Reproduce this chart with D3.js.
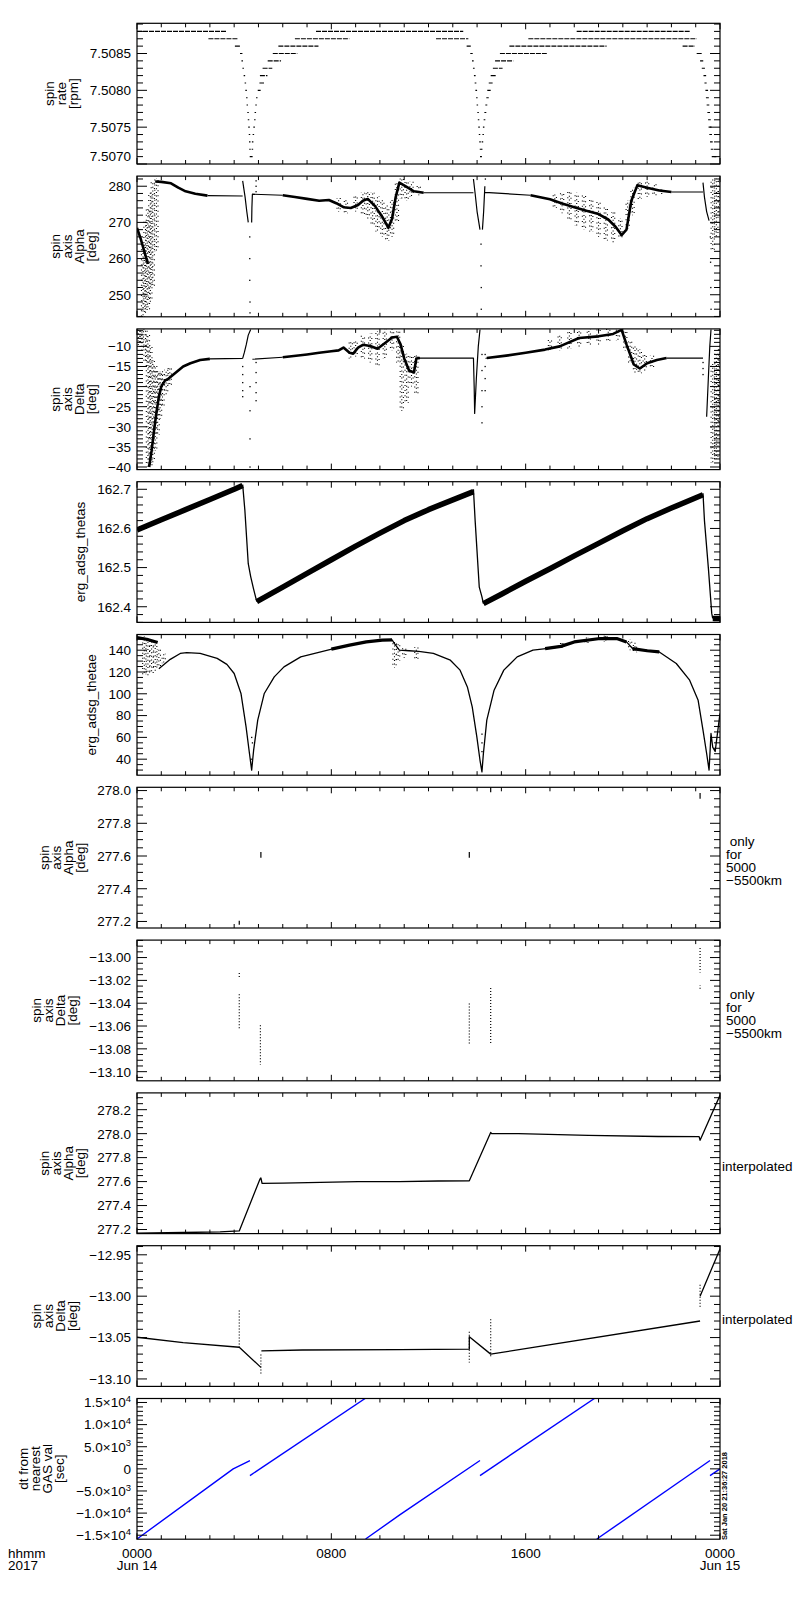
<!DOCTYPE html>
<html>
<head>
<meta charset="utf-8">
<script src="https://cdn.jsdelivr.net/npm/d3@7"></script>
<style>
body { margin: 0; background: #fff; }
text { font-family: "Liberation Sans", Arial, sans-serif; }
</style>
</head>
<body>
<svg id="chart" width="800" height="1600"></svg>
<script>
// ---- data (time in hours from 2017-06-14 00:00) ----
var hourTicks = d3.range(0, 25);
var timeLabels = [[0, "0000", "Jun 14"], [8, "0800", ""], [16, "1600", ""], [24, "0000", "Jun 15"]];

// panel 1: spin rate, quantised runs [t0, t1, level]
var rateTicks = [7.5070, 7.5075, 7.5080, 7.5085];
var rateRuns = [
  [0,3.69,7.5088],[2.94,4.17,7.5087],[4.03,4.24,7.5086],[4.24,4.34,7.5085],[4.30,4.35,7.5084],[4.34,4.39,7.5083],
  [4.39,4.45,7.5082],[4.43,4.49,7.5081],[4.46,4.51,7.5080],[4.49,4.54,7.5079],[4.51,4.57,7.5078],[4.54,4.60,7.5077],
  [4.56,4.61,7.5076],[4.58,4.62,7.5075],[4.60,4.65,7.5074],[4.61,4.67,7.5073],[4.62,4.68,7.5072],[4.64,4.76,7.5071],
  [4.72,4.78,7.5072],[4.73,4.79,7.5073],[4.76,4.82,7.5074],[4.79,4.84,7.5075],[4.82,4.87,7.5076],[4.84,4.90,7.5077],
  [4.87,4.93,7.5078],[4.90,4.95,7.5079],[4.97,5.09,7.5080],[5.04,5.23,7.5081],[5.06,5.37,7.5082],[5.17,5.57,7.5083],
  [5.38,5.93,7.5084],[5.59,6.60,7.5085],[5.82,7.47,7.5086],[6.50,8.74,7.5087],[7.37,13.43,7.5088],
  [12.31,13.64,7.5087],[13.57,13.74,7.5086],[13.72,13.82,7.5085],[13.79,13.86,7.5084],[13.83,13.90,7.5083],
  [13.87,13.94,7.5082],[13.90,13.97,7.5081],[13.93,14.00,7.5080],[13.96,14.02,7.5079],[13.98,14.04,7.5078],
  [14.01,14.07,7.5077],[14.03,14.08,7.5076],[14.05,14.11,7.5075],[14.07,14.12,7.5074],[14.09,14.15,7.5073],
  [14.11,14.16,7.5072],[14.12,14.20,7.5071],
  [14.16,14.22,7.5072],[14.19,14.24,7.5073],[14.22,14.27,7.5074],[14.24,14.30,7.5075],[14.27,14.34,7.5076],
  [14.30,14.38,7.5077],[14.34,14.42,7.5078],[14.38,14.48,7.5079],[14.42,14.56,7.5080],[14.48,14.64,7.5081],
  [14.56,14.78,7.5082],[14.65,15.05,7.5083],[14.74,15.49,7.5084],[14.94,16.87,7.5085],[15.33,19.33,7.5086],
  [16.11,23.04,7.5087],[18.10,22.77,7.5088],
  [22.46,22.97,7.5086],[23.04,23.25,7.5085],[23.18,23.31,7.5084],[23.25,23.38,7.5083],[23.32,23.43,7.5082],
  [23.36,23.45,7.5081],[23.40,23.51,7.5080],[23.42,23.54,7.5079],[23.45,23.56,7.5078],[23.48,23.59,7.5077],
  [23.51,23.62,7.5076],[23.53,23.65,7.5075],[23.56,23.67,7.5074],[23.59,23.70,7.5073],[23.62,23.73,7.5072],
  [23.66,23.85,7.5071]
];

// panel 2: spin axis alpha
var alphaTicks = [250, 260, 270, 280];
var alphaBand = [
  [0,268.5],[0.15,265.5],[0.3,262],[0.45,258.5], null,
  [0.75,281.3],[1.0,281.2],[1.4,280.8],[1.7,279.6],[2.0,278.6],[2.4,277.9],[2.9,277.4], null,
  [6.0,277.5],[6.5,277.0],[7.0,276.5],[7.5,276.0],[7.9,276.2],[8.2,275.3],[8.5,274.2],[8.8,274.0],[9.1,274.8],
  [9.3,276.0],[9.5,276.5],[9.8,274.5],[10.1,271.5],[10.35,268.5],[10.5,271],[10.65,277],[10.8,281],
  [11.1,279.8],[11.4,278.6],[11.8,278.2], null,
  [16.2,277.5],[17.0,276.4],[17.5,275.2],[18.0,274.2],[18.5,273.2],[19.0,272.3],[19.4,270.8],[19.7,268.8],
  [19.95,266.5],[20.15,268],[20.35,276],[20.6,280.3],[21.0,279.6],[21.5,278.8],[22.0,278.4]
];
var alphaLine = [
  [2.9,277.4],[4.35,277.3], null,
  [4.35,281.5],[4.45,277],[4.52,273],[4.58,270], null,
  [4.72,270],[4.73,274],[4.75,277.8],[6.0,277.5], null,
  [11.8,278.2],[13.85,278.2], null,
  [13.85,282],[13.92,278],[14.0,273],[14.12,268], null,
  [14.22,268],[14.27,273],[14.32,280], null,
  [14.32,278.3],[16.2,277.5], null,
  [22.0,278.4],[23.3,278.4], null,
  [23.3,281],[23.36,277],[23.45,273],[23.55,270.5]
];
var alphaCloud = [
  [0.25,244,264],[0.35,245,270],[0.45,246,274],[0.55,248,278],[0.65,252,281],[0.8,262,282],
  [8.3,273,276.5],[8.6,272.5,276],[9.0,273,277.5],[9.3,272,278],[9.5,271,278.5],[9.7,269,278],[9.9,267.5,277],
  [10.1,266,276],[10.3,265,274.5],[10.5,266,276],[10.7,270,281],
  [10.9,276.5,282],[11.1,276,281.5],[11.3,277,281],[11.6,277.5,280],
  [17.2,274,277.5],[17.5,272.5,278],[17.8,270.5,278.5],[18.1,269,278],[18.4,268,277.5],[18.7,267.5,276.5],
  [19.0,266,275.5],[19.3,265,274],[19.6,264.5,272.5],[19.9,265.5,271],
  [20.2,268,276],[20.4,272,279.5],[20.7,276.5,281.5],[21.0,277,281],[21.3,277.5,280.5],[21.6,277.8,279.5],
  [23.7,262,282],[23.85,266,282],[24.0,272,282]
];
var alphaDots = [
  [4.64,266],[4.64,260],[4.64,254],[4.65,248],[4.65,245],[4.9,278.5],[4.9,280],[4.9,281.5],
  [14.16,264],[14.16,258],[14.17,252],[14.17,246],[14.34,282],
  [23.6,266],[23.61,259],[23.62,252],[23.63,246]
];

// panel 3: spin axis delta
var deltaTicks = [-40, -35, -30, -25, -20, -15, -10];
var deltaBand = [
  [0.5,-40],[0.6,-36],[0.7,-31],[0.8,-26.5],[0.9,-22.5],[1.0,-20],[1.15,-18.5],[1.3,-18],[1.5,-17],[1.7,-16],
  [1.9,-15],[2.2,-14.2],[2.6,-13.4],[3.0,-13.1], null,
  [6.0,-12.7],[7.0,-12.0],[7.5,-11.6],[8.0,-11.2],[8.3,-11.0],[8.5,-10.3],[8.75,-11.6],[8.9,-11.8],[9.1,-10.3],
  [9.3,-9.6],[9.6,-9.9],[9.9,-10.6],[10.2,-9.2],[10.5,-7.8],[10.7,-7.6],[10.85,-9.5],[11.0,-13],[11.2,-16],
  [11.4,-16.5],[11.5,-13],[11.65,-12.9], null,
  [14.4,-12.9],[15.2,-12.3],[16.0,-11.6],[16.8,-10.8],[17.4,-10],[18.2,-7.9],[19.0,-7.5],[19.6,-6.9],[19.95,-5.9],
  [20.15,-9.5],[20.3,-12],[20.45,-14.5],[20.7,-15.5],[21.0,-14.2],[21.4,-13.4],[21.8,-12.9]
];
var deltaLine = [
  [3.0,-13.1],[4.35,-13.0], null,
  [4.35,-13.0],[4.42,-11.5],[4.5,-9.5],[4.58,-7.2],[4.68,-5.8], null,
  [4.75,-13.2],[6.0,-12.7], null,
  [11.65,-12.9],[13.85,-12.9],[13.88,-20],[13.9,-26.7],[13.97,-18],[14.05,-10],[14.12,-5.8], null,
  [14.35,-13.0],[14.4,-12.9], null,
  [21.8,-12.9],[23.3,-12.9], null,
  [23.45,-27.5],[23.52,-18],[23.58,-10],[23.63,-5.8]
];
var deltaCloud = [
  [0.05,-10,-5.7],[0.2,-11,-5.7],[0.35,-14,-5.7],[0.45,-40,-7],[0.55,-40,-10],[0.65,-39,-13],[0.75,-36,-15],
  [0.85,-32,-16],[0.95,-28,-16.5],[1.05,-25,-16],[1.2,-22,-16],[1.35,-20,-15.5],
  [8.8,-13,-9],[9.0,-12.5,-8.5],[9.3,-13,-7.5],[9.6,-14,-7],[9.9,-15,-6.5],[10.2,-13,-5.8],[10.5,-11,-5.8],
  [10.75,-14,-6.5],[10.9,-26,-10],[11.1,-24,-12],[11.3,-20,-12.5],[11.5,-22,-12],
  [17.0,-11,-8.5],[17.4,-11,-7],[17.8,-10.5,-6],[18.2,-10,-5.8],[18.6,-9.5,-5.7],[19.0,-9.5,-5.7],[19.4,-9,-5.7],
  [19.8,-8.5,-5.7],[20.1,-11,-6.5],[20.3,-14,-9],[20.5,-16.5,-10],[20.7,-16.7,-11],[20.9,-16,-12],[21.2,-15.5,-12.5],
  [23.7,-39,-14],[23.85,-38,-12],[24,-30,-10]
];
var deltaDots = [
  [4.35,-15],[4.35,-17],[4.35,-19],[4.35,-21],[4.35,-22.5],
  [4.65,-20],[4.65,-26],[4.65,-33],[4.65,-40],
  [4.9,-14],[4.9,-16.5],[4.9,-19],[4.9,-21.5],[4.9,-23.5],
  [14.2,-12],[14.2,-16],[14.2,-21],[14.2,-25],[14.2,-29],
  [14.33,-12],[14.33,-15],[14.33,-18],[14.33,-21],
  [23.3,-14],[23.3,-15.5],[23.3,-17]
];

// panel 4: erg_adsg_thetas
var thetasTicks = [162.4, 162.5, 162.6, 162.7];
var thetasBand = [
  [0,162.596],[1,162.622],[2,162.648],[3,162.674],[4,162.700],[4.35,162.71], null,
  [4.93,162.413],[6,162.45],[7,162.485],[8,162.52],[9,162.555],[10,162.588],[11,162.62],[12,162.648],[13,162.673],[13.85,162.694], null,
  [14.26,162.408],[15,162.432],[16,162.465],[17,162.497],[18,162.53],[19,162.562],[20,162.594],[21,162.625],[22,162.652],[23.3,162.686], null,
  [23.7,162.37],[24,162.37]
];
var thetasLine = [
  [4.35,162.712],[4.44,162.647],[4.58,162.51],[4.68,162.477],[4.8,162.445],[4.93,162.413], null,
  [13.85,162.70],[13.92,162.62],[14.09,162.45],[14.2,162.425],[14.26,162.408], null,
  [23.3,162.69],[23.36,162.62],[23.52,162.50],[23.66,162.383],[23.7,162.37]
];

// panel 5: erg_adsg_thetae
var thetaeTicks = [40, 60, 80, 100, 120, 140];
var thetaeBand = [
  [0,151.5],[0.4,150],[0.85,147], null,
  [8.0,141],[8.75,144.6],[9.44,147.6],[10.1,149.2],[10.5,149.5], null,
  [16.8,141.5],[17.45,143.5],[18.0,147.6],[19.06,150.7],[19.75,150.7],[20.15,147.6], null,
  [20.4,141.5],[21.0,139.5],[21.5,138.4]
];
var thetaeLine = [
  [0.9,123],[1.37,131.6],[1.78,137],[2.05,137.7],[2.6,137],[3.3,132.5],[3.7,127],[4.0,118.6],[4.28,100.3],
  [4.49,69.6],[4.63,45.2],[4.72,30],[4.8,48],[4.97,75.8],[5.24,100.3],[5.65,115.5],[6.05,124.7],[6.74,133.9],
  [7.4,137.5],[8.1,141.5],[8.75,144.6],[9.44,147.6],[10.1,149.2],[10.5,149.5],[10.6,146],[10.8,140],[11.2,139.5],
  [11.6,139],[12.2,137],[12.9,130.8],[13.3,121.7],[13.6,106.3],[13.8,88],[13.99,60.4],[14.12,39],[14.2,28.3],
  [14.26,45.2],[14.4,75.8],[14.7,103.3],[15.1,121.7],[15.65,133.9],[16.3,140],[17.45,143],[18.0,147.6],
  [19.06,150.7],[19.75,150.7],[20.15,147.6],[20.4,141.5],[21.5,138.4],[22.2,127.8],[22.75,112.5],[23.1,94],
  [23.3,66.6],[23.45,45.2],[23.55,30],[23.63,63.6],[23.7,51],[23.8,47],[24,82]
];
var thetaeCloud = [
  [0.3,118,152],[0.45,117,150],[0.6,119,148],[0.75,121,145],[0.9,124,140],[1.1,128,136],
  [10.6,124,148],[10.75,130,146],[11.0,133,142],[11.5,131,142],
  [17.5,142,147],[18.5,145,151],[19.3,148,153],[20.3,140,149],[20.5,138,146]
];
var thetaeDots = [[4.7,40],[4.72,60],[4.75,55],[14.2,63],[14.2,55],[14.2,47]];

// panel 6/7: spin axis only for 5000-5500 km  [t, lo, hi]
var alphaNearTicks = [277.2, 277.4, 277.6, 277.8, 278.0];
var alphaNearMarks = [[4.21,277.18,277.2],[5.1,277.59,277.62],[13.68,277.59,277.62],[14.56,277.99,278.02],[23.18,277.95,277.98]];
var deltaNearTicks = [-13.10, -13.08, -13.06, -13.04, -13.02, -13.00];
var deltaNearMarks = [[4.21,-13.017,-13.014],[4.21,-13.063,-13.031],[5.08,-13.094,-13.06],[13.68,-13.077,-13.041],
  [14.56,-13.075,-13.027],[23.18,-13.013,-12.991],[23.18,-13.028,-13.025]];

// panel 8/9: interpolated
var alphaInterpTicks = [277.2, 277.4, 277.6, 277.8, 278.0, 278.2];
var alphaInterpLine = [
  [0,277.17],[1.9,277.175],[3.42,277.18],[4.21,277.188],[5.06,277.62],[5.1,277.63],[5.15,277.585],[6.0,277.587],
  [9.1,277.6],[10.8,277.6],[12.4,277.605],[13.68,277.607],[14.56,278.01],[14.6,278.0],[15.7,278.0],[18.58,277.985],
  [21.46,277.976],[23.14,277.975],[23.18,277.945],[24,278.32]
];
var deltaInterpTicks = [-13.10, -13.05, -13.00, -12.95];
var deltaInterpLine = [
  [0,-13.0496],[1.9,-13.056],[4.21,-13.0617],[5.1,-13.086], null,
  [5.12,-13.066],[6.8,-13.065],[10.83,-13.0645],[13.68,-13.064],[13.68,-13.049],[14.56,-13.07],[23.18,-13.030], null,
  [23.18,-13.0],[24,-12.943]
];
var deltaInterpMarks = [[4.21,-13.062,-13.016],[5.1,-13.095,-13.07],[13.68,-13.08,-13.044],[14.56,-13.075,-13.028],[23.18,-13.013,-12.985]];

// panel 10: dt from nearest GAS val
var dtTicks = [-15000, -10000, -5000, 0, 5000, 10000, 15000];
var dtSegments = [
  [[0,-15860],[3.96,0],[4.65,1880]],
  [[4.65,-1520],[9.39,15900]],
  [[9.41,-15860],[10.83,-10350],[14.12,1880]],
  [[14.12,-1520],[18.83,15900]],
  [[18.93,-15860],[23.59,1880]],
  [[23.59,-1520],[24,0]]
];

// ---- layout ----
var left = 137, right = 720, top0 = 23.3, step = 152.8, ph = 140.7;
var svg = d3.select("#chart");
var x = d3.scaleLinear().domain([0, 24]).range([left, right]);

function sci(v) {
  if (v === 0) return ["0", ""];
  var e = Math.floor(Math.log10(Math.abs(v)) + 1e-9);
  return [d3.format(".1f")(v / Math.pow(10, e)) + "\u00d710", String(e)];
}

var panels = [
  {title: ["spin", "rate", "[rpm]"], domain: [7.5070, 7.50891], ticks: rateTicks, minor: 0.0001, fmt: d3.format(".4f"), raiseBottom: true},
  {title: ["spin", "axis", "Alpha", "[deg]"], domain: [243.9, 282.8], ticks: alphaTicks, minor: 2, fmt: d3.format("d")},
  {title: ["spin", "axis", "Delta", "[deg]"], domain: [-40.65, -5.65], ticks: deltaTicks, minor: 1, fmt: d3.format("d")},
  {title: ["erg_adsg_thetas"], domain: [162.360, 162.7194], ticks: thetasTicks, minor: 0.02, fmt: d3.format(".1f")},
  {title: ["erg_adsg_thetae"], domain: [25.3, 154.4], ticks: thetaeTicks, minor: 5, fmt: d3.format("d")},
  {title: ["spin", "axis", "Alpha", "[deg]"], domain: [277.16, 278.02], ticks: alphaNearTicks, minor: 0.05, fmt: d3.format(".1f"),
   note: [" only", "for", "5000", "\u22125500km"]},
  {title: ["spin", "axis", "Delta", "[deg]"], domain: [-13.108, -12.9847], ticks: deltaNearTicks, minor: 0.005, fmt: d3.format(".2f"),
   note: [" only", "for", "5000", "\u22125500km"]},
  {title: ["spin", "axis", "Alpha", "[deg]"], domain: [277.166, 278.34], ticks: alphaInterpTicks, minor: 0.05, fmt: d3.format(".1f"),
   note: ["interpolated"]},
  {title: ["spin", "axis", "Delta", "[deg]"], domain: [-13.109, -12.939], ticks: deltaInterpTicks, minor: 0.01, fmt: d3.format(".2f"),
   note: ["interpolated"]},
  {title: ["dt from", "nearest", "GAS val", "[sec]"], domain: [-15900, 15900], ticks: dtTicks, minor: 1000, fmt: sci}
];

var defs = svg.append("defs");

panels.forEach(function(p, i) {
  var top = top0 + i * step, bottom = top + ph;
  p.y = d3.scaleLinear().domain(p.domain).range([bottom, top]);
  p.top = top;
  p.bottom = bottom;
  p.g = svg.append("g");
  defs.append("clipPath").attr("id", "clip" + i)
    .append("rect").attr("x", left).attr("y", top).attr("width", right - left).attr("height", ph);
  p.plot = p.g.append("g").attr("clip-path", "url(#clip" + i + ")");
});

function drawLine(p, pts, width, color) {
  var line = d3.line().defined(function(d) { return d !== null; })
    .x(function(d) { return x(d[0]); })
    .y(function(d) { return p.y(d[1]); });
  p.plot.append("path").datum(pts).attr("d", line)
    .attr("fill", "none").attr("stroke", color || "#000")
    .attr("stroke-width", width).attr("stroke-linejoin", "round");
}

// vertical marks [t, lo, hi]; spread = draw a few thin dotted strands side by side
function drawColumns(p, cols, width, dash, spread) {
  var offs = spread ? [-1.6, 0, 1.6] : [0];
  offs.forEach(function(dx, s) {
    p.plot.selectAll(null).data(cols).enter().append("line")
      .attr("x1", function(d) { return x(d[0]) + dx; })
      .attr("x2", function(d) { return x(d[0]) + dx; })
      .attr("y1", function(d) { return p.y(d[1]); })
      .attr("y2", function(d) { return p.y(d[2]) - 0.8; })
      .attr("stroke", "#000").attr("stroke-width", width)
      .attr("stroke-dasharray", spread ? (s === 1 ? "1,2.6" : "1,4.1") : dash)
      .attr("stroke-dashoffset", function(d, k) { return (k * 1.7 + s * 2.3) % 4; });
  });
}

function drawDots(p, pts) {
  p.plot.selectAll(null).data(pts).enter().append("rect")
    .attr("x", function(d) { return x(d[0]) - 0.6; })
    .attr("y", function(d) { return p.y(d[1]) - 0.6; })
    .attr("width", 1.3).attr("height", 1.3).attr("fill", "#000");
}

// panel 1 runs
panels[0].plot.selectAll(null).data(rateRuns).enter().append("line")
  .attr("x1", function(d) { return x(d[0]); })
  .attr("x2", function(d) { return Math.max(x(d[1]), x(d[0]) + 1.5); })
  .attr("y1", function(d) { return panels[0].y(d[2]); })
  .attr("y2", function(d) { return panels[0].y(d[2]); })
  .attr("stroke", "#000").attr("stroke-width", 1.1)
  .attr("stroke-dasharray", "5,1");

// panel 2
drawColumns(panels[1], alphaCloud, 1.1, null, true);
drawLine(panels[1], alphaBand, 2.6);
drawLine(panels[1], alphaLine, 1.2);
drawDots(panels[1], alphaDots);

// panel 3
drawColumns(panels[2], deltaCloud, 1.1, null, true);
drawLine(panels[2], deltaBand, 2.6);
drawLine(panels[2], deltaLine, 1.2);
drawDots(panels[2], deltaDots);

// panel 4
drawLine(panels[3], thetasBand, 5.5);
drawLine(panels[3], thetasLine, 1.3);

// panel 5
drawColumns(panels[4], thetaeCloud, 1.1, null, true);
drawLine(panels[4], thetaeBand, 3.2);
drawLine(panels[4], thetaeLine, 1.3);
drawDots(panels[4], thetaeDots);

// panels 6-9
drawColumns(panels[5], alphaNearMarks, 1.2, null, false);
drawColumns(panels[6], deltaNearMarks, 1.2, "1,2", false);
drawLine(panels[7], alphaInterpLine, 1.3);
drawLine(panels[8], deltaInterpLine, 1.3);
drawColumns(panels[8], deltaInterpMarks, 1.2, "1,2", false);

// panel 10
dtSegments.forEach(function(seg) { drawLine(panels[9], seg, 1.4, "#0000ff"); });

// ---- frames, ticks, labels ----
panels.forEach(function(p, i) {
  var g = p.g;
  g.append("rect").attr("x", left).attr("y", p.top).attr("width", right - left).attr("height", ph)
    .attr("fill", "none").attr("stroke", "#000").attr("stroke-width", 1.2);

  hourTicks.forEach(function(h) {
    var len = h % 8 === 0 ? 6 : 4;
    g.append("line").attr("x1", x(h)).attr("x2", x(h)).attr("y1", p.top).attr("y2", p.top + len)
      .attr("stroke", "#000").attr("stroke-width", 1);
    g.append("line").attr("x1", x(h)).attr("x2", x(h)).attr("y1", p.bottom).attr("y2", p.bottom - len)
      .attr("stroke", "#000").attr("stroke-width", 1);
  });

  var lo = p.domain[0], hi = p.domain[1];
  var n0 = Math.ceil(lo / p.minor - 1e-6), n1 = Math.floor(hi / p.minor + 1e-6);
  for (var k = n0; k <= n1; k++) {
    var v = k * p.minor;
    var isMajor = p.ticks.some(function(t) { return Math.abs(t - v) < p.minor * 0.01; });
    var len = isMajor ? 10 : 6;
    var yy = p.y(v);
    g.append("line").attr("x1", left).attr("x2", left + len).attr("y1", yy).attr("y2", yy)
      .attr("stroke", "#000").attr("stroke-width", 1);
    g.append("line").attr("x1", right).attr("x2", right - len).attr("y1", yy).attr("y2", yy)
      .attr("stroke", "#000").attr("stroke-width", 1);
  }

  var maxW = 0;
  p.ticks.forEach(function(t) {
    var yy = p.y(t);
    if (p.raiseBottom && Math.abs(t - lo) < 1e-9) yy -= 8;
    var txt = g.append("text").attr("x", 131).attr("y", yy).attr("dy", "0.36em")
      .attr("text-anchor", "end").attr("font-size", 13.5);
    var f = p.fmt(t);
    if (Array.isArray(f)) {
      txt.append("tspan").text(f[0]);
      if (f[1]) txt.append("tspan").attr("dy", "-0.55em").attr("font-size", 9.5).text(f[1]);
    } else {
      txt.text(f);
    }
    maxW = Math.max(maxW, txt.node().getBBox().width);
  });

  var last = 131 - maxW - 12;
  var cy = (p.top + p.bottom) / 2;
  p.title.forEach(function(s, j) {
    var bx = last - (p.title.length - 1 - j) * 12;
    g.append("text").attr("transform", "translate(" + bx + "," + cy + ") rotate(-90)")
      .attr("text-anchor", "middle").attr("font-size", 13.5).text(s);
  });

  if (p.note) {
    if (p.note.length > 1) {
      p.note.forEach(function(s, j) {
        g.append("text").attr("x", 726).attr("y", cy + 8 + (j - 1.5) * 13)
          .attr("font-size", 13.5).attr("xml:space", "preserve").style("white-space", "pre").text(s);
      });
    } else {
      g.append("text").attr("x", 722).attr("y", cy + 8).attr("font-size", 13.5).text(p.note[0]);
    }
  }
});

// time axis labels under last panel
timeLabels.forEach(function(d) {
  svg.append("text").attr("x", x(d[0])).attr("y", 1558).attr("text-anchor", "middle").attr("font-size", 13.5).text(d[1]);
  if (d[2]) svg.append("text").attr("x", x(d[0])).attr("y", 1570).attr("text-anchor", "middle").attr("font-size", 13.5).text(d[2]);
});
svg.append("text").attr("x", 8).attr("y", 1558).attr("font-size", 13.5).text("hhmm");
svg.append("text").attr("x", 8).attr("y", 1570).attr("font-size", 13.5).text("2017");

// creation stamp
svg.append("text").attr("transform", "translate(727,1540) rotate(-90)")
  .attr("font-family", "DejaVu Sans Mono, monospace").attr("font-size", 6.5).attr("font-weight", "bold")
  .attr("textLength", 88).attr("lengthAdjust", "spacingAndGlyphs")
  .text("Sat Jan 20 21:36:27 2018");
</script>
</body>
</html>
